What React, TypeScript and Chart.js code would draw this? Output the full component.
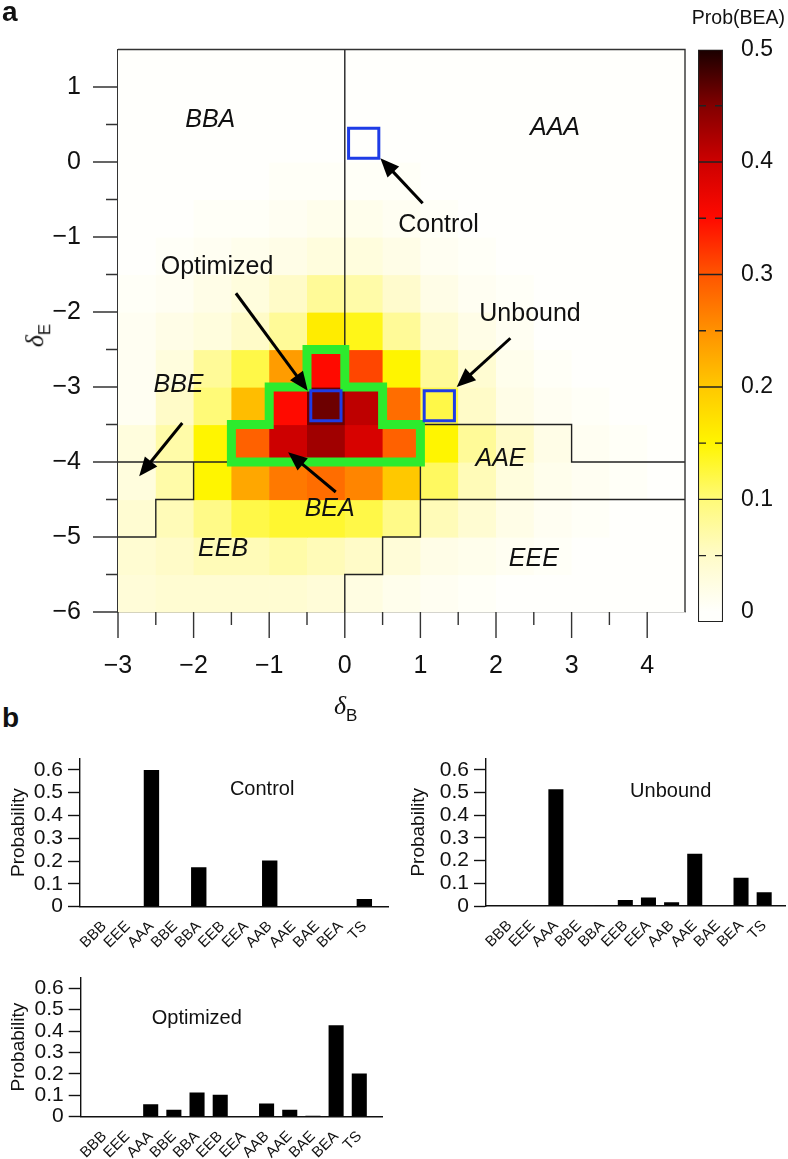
import React, { useEffect, useRef } from 'react';
import { Chart, registerables } from 'chart.js';
Chart.register(...registerables);

const SANS = "'Liberation Sans', Arial, Helvetica, sans-serif";

// ---------- Panel a : heat map of Prob(BEA) ----------
const cellLeftEdges = [-3, -2.5, -2, -1.5, -1, -0.5, 0, 0.5, 1, 1.5, 2, 2.5, 3, 3.5, 4];
const cellBottomEdges = [-6, -5.5, -5, -4.5, -4, -3.5, -3, -2.5, -2, -1.5, -1, -0.5, 0, 0.5, 1];
const CELL = 0.5;
// rows listed from deltaE = -6 (bottom) upward, columns from deltaB = -3 rightward
const probBEA = [
  [0.035, 0.04, 0.04, 0.04, 0.04, 0.035, 0.025, 0.015, 0.01, 0.005, 0, 0, 0, 0, 0],
  [0.04, 0.05, 0.06, 0.06, 0.07, 0.06, 0.05, 0.035, 0.02, 0.015, 0.01, 0.005, 0, 0, 0],
  [0.04, 0.06, 0.09, 0.12, 0.13, 0.13, 0.12, 0.09, 0.06, 0.04, 0.02, 0.01, 0.005, 0, 0],
  [0.03, 0.07, 0.15, 0.23, 0.27, 0.28, 0.26, 0.2, 0.11, 0.06, 0.03, 0.015, 0.01, 0.005, 0],
  [0.03, 0.07, 0.15, 0.29, 0.4, 0.43, 0.39, 0.29, 0.15, 0.08, 0.05, 0.02, 0.01, 0.005, 0],
  [0.01, 0.05, 0.1, 0.21, 0.35, 0.46, 0.41, 0.28, 0.12, 0.05, 0.02, 0.01, 0.005, 0, 0],
  [0.01, 0.03, 0.08, 0.12, 0.24, 0.35, 0.31, 0.15, 0.08, 0.04, 0.015, 0.005, 0, 0, 0],
  [0.01, 0.02, 0.03, 0.05, 0.08, 0.16, 0.14, 0.08, 0.04, 0.02, 0.01, 0, 0, 0, 0],
  [0.005, 0.01, 0.02, 0.03, 0.05, 0.08, 0.07, 0.045, 0.02, 0.01, 0.005, 0, 0, 0, 0],
  [0, 0.005, 0.01, 0.015, 0.02, 0.03, 0.03, 0.02, 0.01, 0.005, 0, 0, 0, 0, 0],
  [0, 0, 0.005, 0.005, 0.01, 0.015, 0.015, 0.01, 0.005, 0, 0, 0, 0, 0, 0],
  [0, 0, 0, 0, 0.005, 0.005, 0.005, 0.005, 0, 0, 0, 0, 0, 0, 0],
  [0, 0, 0, 0, 0, 0, 0, 0, 0, 0, 0, 0, 0, 0, 0],
  [0, 0, 0, 0, 0, 0, 0, 0, 0, 0, 0, 0, 0, 0, 0],
  [0, 0, 0, 0, 0, 0, 0, 0, 0, 0, 0, 0, 0, 0, 0],
];
const xTickValues = [-3, -2.5, -2, -1.5, -1, -0.5, 0, 0.5, 1, 1.5, 2, 2.5, 3, 3.5, 4];
const yTickValues = [-6, -5.5, -5, -4.5, -4, -3.5, -3, -2.5, -2, -1.5, -1, -0.5, 0, 0.5, 1];
const colorbarTicks = [0, 0.1, 0.2, 0.3, 0.4, 0.5];
const colorbarMinor = [0.05, 0.15, 0.25, 0.35, 0.45];
const colorStops: [number, number[]][] = [
  [0, [255, 255, 252]],
  [0.05, [255, 251, 200]],
  [0.1, [255, 250, 120]],
  [0.15, [255, 245, 0]],
  [0.2, [255, 200, 0]],
  [0.25, [255, 145, 0]],
  [0.3, [255, 85, 0]],
  [0.35, [255, 10, 0]],
  [0.4, [205, 0, 0]],
  [0.45, [130, 0, 0]],
  [0.5, [25, 0, 0]],
];
const regionLabels = [
  { text: 'BBA', x: -1.78, y: 0.56 },
  { text: 'AAA', x: 2.78, y: 0.45 },
  { text: 'BBE', x: -2.2, y: -2.97 },
  { text: 'AAE', x: 2.06, y: -3.96 },
  { text: 'BEA', x: -0.2, y: -4.63 },
  { text: 'EEB', x: -1.61, y: -5.16 },
  { text: 'EEE', x: 2.5, y: -5.3 },
];
const regionBoundaries = [
  [[0, 1.5], [0, -2.5]],
  [[-3, -4], [-1.5, -4]],
  [[-2, -4], [-2, -4.5], [-2.5, -4.5], [-2.5, -5], [-3, -5]],
  [[1, -4], [1, -5], [0.5, -5], [0.5, -5.5], [0, -5.5], [0, -6]],
  [[1, -3.5], [3, -3.5], [3, -4], [4.5, -4]],
  [[1, -4.5], [4.5, -4.5]],
];
const optimizedOutline = [
  [-1.5, -4], [1, -4], [1, -3.5], [0.5, -3.5], [0.5, -3], [0, -3], [0, -2.5],
  [-0.5, -2.5], [-0.5, -3], [-1, -3], [-1, -3.5], [-1.5, -3.5],
];
const markedCells = [
  { name: 'Control', x: 0.25, y: 0.25 },
  { name: 'Optimized', x: -0.25, y: -3.25 },
  { name: 'Unbound', x: 1.25, y: -3.25 },
];
const annotations = [
  { text: 'Control', x: 1.24, y: -0.84 },
  { text: 'Optimized', x: -1.69, y: -1.4 },
  { text: 'Unbound', x: 2.45, y: -2.03 },
];
const arrows = [
  { from: [1.03, -0.55], to: [0.47, 0.05] },
  { from: [-1.44, -1.75], to: [-0.49, -3.05] },
  { from: [2.19, -2.35], to: [1.48, -3.0] },
  { from: [-2.15, -3.48], to: [-2.72, -4.19] },
  { from: [-0.12, -4.4], to: [-0.75, -3.87] },
];

// ---------- Panel b : state probabilities ----------
const states = ['BBB', 'EEE', 'AAA', 'BBE', 'BBA', 'EEB', 'EEA', 'AAB', 'AAE', 'BAE', 'BEA', 'TS'];
const controlProb = [0, 0, 0.6, 0, 0.173, 0, 0, 0.203, 0, 0, 0.002, 0.034];
const unboundProb = [0, 0.002, 0.515, 0, 0.001, 0.026, 0.037, 0.016, 0.23, 0.002, 0.124, 0.061];
const optimizedProb = [0, 0, 0.058, 0.032, 0.113, 0.102, 0.002, 0.062, 0.033, 0.004, 0.427, 0.202];
const probTicks = [0, 0.1, 0.2, 0.3, 0.4, 0.5, 0.6];

const minus = (v: number) => String(v).replace('-', '\u2212');

function colorFor(v: number) {
  if (v <= colorStops[0][0]) return `rgb(${colorStops[0][1].join(',')})`;
  for (let k = 1; k < colorStops.length; k++) {
    const [v1, c1] = colorStops[k];
    const [v0, c0] = colorStops[k - 1];
    if (v <= v1) {
      const t = (v - v0) / (v1 - v0);
      const c = c0.map((a, i) => Math.round(a + (c1[i] - a) * t));
      return `rgb(${c.join(',')})`;
    }
  }
  return `rgb(${colorStops[colorStops.length - 1][1].join(',')})`;
}

function drawArrow(ctx: CanvasRenderingContext2D, x0: number, y0: number, x1: number, y1: number) {
  const ang = Math.atan2(y1 - y0, x1 - x0);
  const headLen = 19, headW = 8;
  const bx = x1 - headLen * Math.cos(ang), by = y1 - headLen * Math.sin(ang);
  ctx.save();
  ctx.strokeStyle = '#000';
  ctx.fillStyle = '#000';
  ctx.lineWidth = 3;
  ctx.beginPath();
  ctx.moveTo(x0, y0);
  ctx.lineTo(bx + 2 * Math.cos(ang), by + 2 * Math.sin(ang));
  ctx.stroke();
  ctx.beginPath();
  ctx.moveTo(x1, y1);
  ctx.lineTo(bx + headW * Math.sin(ang), by - headW * Math.cos(ang));
  ctx.lineTo(bx - headW * Math.sin(ang), by + headW * Math.cos(ang));
  ctx.closePath();
  ctx.fill();
  ctx.restore();
}

const heatmapPlugin = {
  id: 'heatmapCells',
  beforeDatasetsDraw(chart: any) {
    const { ctx, scales: { x, y } } = chart;
    ctx.save();
    probBEA.forEach((row, j) => {
      row.forEach((v, i) => {
        const x0 = x.getPixelForValue(cellLeftEdges[i]);
        const x1 = x.getPixelForValue(cellLeftEdges[i] + CELL);
        const y0 = y.getPixelForValue(cellBottomEdges[j] + CELL);
        const y1 = y.getPixelForValue(cellBottomEdges[j]);
        ctx.fillStyle = colorFor(v);
        ctx.fillRect(x0, y0, x1 - x0 + 0.6, y1 - y0 + 0.6);
      });
    });
    ctx.restore();
  },
  afterDatasetsDraw(chart: any) {
    const { ctx, chartArea, scales: { x, y } } = chart;
    const px = (p: number[]) => [x.getPixelForValue(p[0]), y.getPixelForValue(p[1])];
    ctx.save();
    ctx.strokeStyle = '#222';
    ctx.lineWidth = 1.4;
    regionBoundaries.forEach((line) => {
      ctx.beginPath();
      line.forEach((p, k) => {
        const [a, b] = px(p);
        if (k === 0) ctx.moveTo(a, b); else ctx.lineTo(a, b);
      });
      ctx.stroke();
    });
    ctx.strokeStyle = 'rgb(45,235,45)';
    ctx.lineWidth = 9;
    ctx.lineJoin = 'miter';
    ctx.beginPath();
    optimizedOutline.forEach((p, k) => {
      const [a, b] = px(p);
      if (k === 0) ctx.moveTo(a, b); else ctx.lineTo(a, b);
    });
    ctx.closePath();
    ctx.stroke();
    ctx.strokeStyle = 'rgb(30,60,230)';
    ctx.lineWidth = 3;
    markedCells.forEach((m) => {
      const [a0, b0] = px([m.x - 0.2, m.y + 0.2]);
      const [a1, b1] = px([m.x + 0.2, m.y - 0.2]);
      ctx.strokeRect(a0, b0, a1 - a0, b1 - b0);
    });
    ctx.strokeStyle = '#333';
    ctx.lineWidth = 1.4;
    ctx.beginPath();
    ctx.moveTo(chartArea.left, chartArea.top);
    ctx.lineTo(chartArea.right, chartArea.top);
    ctx.lineTo(chartArea.right, chartArea.bottom);
    ctx.stroke();
    ctx.fillStyle = '#111';
    ctx.textAlign = 'center';
    ctx.textBaseline = 'middle';
    ctx.font = `italic 25px ${SANS}`;
    regionLabels.forEach((l) => {
      const [a, b] = px([l.x, l.y]);
      ctx.fillText(l.text, a, b);
    });
    ctx.font = `25px ${SANS}`;
    annotations.forEach((l) => {
      const [a, b] = px([l.x, l.y]);
      ctx.fillText(l.text, a, b);
    });
    arrows.forEach((ar) => {
      const [a0, b0] = px(ar.from);
      const [a1, b1] = px(ar.to);
      drawArrow(ctx, a0, b0, a1, b1);
    });
    ctx.strokeStyle = '#333';
    ctx.lineWidth = 1.4;
    ctx.beginPath();
    x.ticks.forEach((t: any) => {
      const a = x.getPixelForValue(t.value);
      const len = Number.isInteger(t.value) ? 26 : 13;
      ctx.moveTo(a, chartArea.bottom);
      ctx.lineTo(a, chartArea.bottom + len);
    });
    y.ticks.forEach((t: any) => {
      const b = y.getPixelForValue(t.value);
      const len = Number.isInteger(t.value) ? 25 : 12;
      ctx.moveTo(chartArea.left, b);
      ctx.lineTo(chartArea.left - len, b);
    });
    ctx.stroke();
    ctx.restore();
  },
};

const colorbarPlugin = {
  id: 'colorbarLines',
  afterDatasetsDraw(chart: any) {
    const { ctx, chartArea, scales: { y } } = chart;
    ctx.save();
    ctx.strokeStyle = '#222';
    ctx.lineWidth = 1.4;
    ctx.beginPath();
    colorbarTicks.slice(1, 5).forEach((v) => {
      const b = y.getPixelForValue(v);
      ctx.moveTo(chartArea.left, b);
      ctx.lineTo(chartArea.right, b);
    });
    colorbarMinor.forEach((v) => {
      const b = y.getPixelForValue(v);
      ctx.moveTo(chartArea.left, b);
      ctx.lineTo(chartArea.left + 8, b);
      ctx.moveTo(chartArea.right - 8, b);
      ctx.lineTo(chartArea.right, b);
    });
    ctx.stroke();
    ctx.restore();
  },
};

const barTitlePlugin = {
  id: 'panelTitle',
  afterDatasetsDraw(chart: any, _args: any, opts: any) {
    const { ctx, scales: { x, y } } = chart;
    ctx.save();
    ctx.fillStyle = '#111';
    ctx.font = `20px ${SANS}`;
    ctx.textAlign = 'center';
    ctx.textBaseline = 'middle';
    ctx.fillText(opts.text, x.getPixelForValue(opts.x), y.getPixelForValue(opts.y));
    ctx.restore();
  },
};

function heatmapConfig(): any {
  return {
    type: 'scatter',
    data: { datasets: [{ data: [], pointRadius: 0 }] },
    options: {
      responsive: false,
      animation: false,
      events: [],
      layout: { padding: { top: 49.5, right: 5, left: 0, bottom: 0 } },
      plugins: { legend: { display: false }, tooltip: { enabled: false } },
      scales: {
        x: {
          type: 'linear', min: -3, max: 4.5,
          afterBuildTicks: (s: any) => { s.ticks = xTickValues.map((v) => ({ value: v })); },
          afterFit: (s: any) => { s.height = 88; },
          ticks: {
            autoSkip: false, maxRotation: 0, padding: 31, color: '#111',
            font: { family: SANS, size: 25 },
            callback: (v: number) => (Number.isInteger(v) ? minus(v) : ''),
          },
          grid: { display: false },
          border: { display: true, color: '#333', width: 1.4 },
        },
        y: {
          type: 'linear', min: -6, max: 1.5,
          afterBuildTicks: (s: any) => { s.ticks = yTickValues.map((v) => ({ value: v })); },
          afterFit: (s: any) => { s.width = 118; },
          ticks: {
            autoSkip: false, padding: 29, color: '#111',
            font: { family: SANS, size: 25 },
            callback: (v: number) => (Number.isInteger(v) ? minus(v) : ''),
          },
          grid: { display: false },
          border: { display: true, color: '#333', width: 1.4 },
        },
      },
    },
    plugins: [heatmapPlugin],
  };
}

function colorbarConfig(): any {
  return {
    type: 'bar',
    data: {
      labels: ['Prob(BEA)'],
      datasets: [{
        data: [[-0.009, 0.5]],
        barPercentage: 1, categoryPercentage: 1,
        borderColor: '#222', borderWidth: 1.4, borderSkipped: false,
        backgroundColor: (c: any) => {
          const { chart } = c;
          if (!chart.chartArea) return '#fff';
          const ys = chart.scales.y;
          const g = chart.ctx.createLinearGradient(0, ys.getPixelForValue(0), 0, ys.getPixelForValue(0.5));
          colorStops.forEach(([v, col]) => g.addColorStop(v / 0.5, `rgb(${col.join(',')})`));
          return g;
        },
      }],
    },
    options: {
      responsive: false,
      animation: false,
      events: [],
      layout: { padding: { top: 49.5, left: 8, right: 0, bottom: 78 } },
      plugins: { legend: { display: false }, tooltip: { enabled: false } },
      scales: {
        x: { display: false },
        y: {
          position: 'right', min: -0.009, max: 0.5,
          afterBuildTicks: (s: any) => { s.ticks = colorbarTicks.map((v) => ({ value: v })); },
          afterFit: (s: any) => { s.width = 65; },
          ticks: {
            autoSkip: false, padding: 10, color: '#111', font: { family: SANS, size: 23 },
            callback: (v: number) => (v === 0 ? '0' : v.toFixed(1)),
          },
          grid: { display: false },
          border: { display: false },
        },
      },
    },
    plugins: [colorbarPlugin],
  };
}

function barConfig(values: number[], title: any, pad: any, yWidth: number, xHeight: number, xMax: number): any {
  return {
    type: 'bar',
    data: {
      datasets: [{
        data: values.map((v, i) => ({ x: i, y: v })),
        backgroundColor: '#000', borderWidth: 0,
        barPercentage: 0.65, categoryPercentage: 1,
      }],
    },
    options: {
      responsive: false,
      animation: false,
      events: [],
      layout: { padding: pad },
      plugins: { legend: { display: false }, tooltip: { enabled: false }, panelTitle: title },
      scales: {
        x: {
          type: 'linear', min: -1.02, max: xMax, offset: false,
          afterBuildTicks: (s: any) => { s.ticks = states.map((_, i) => ({ value: i })); },
          afterFit: (s: any) => { s.height = xHeight; },
          ticks: {
            autoSkip: false, minRotation: 45, maxRotation: 45, padding: 3, color: '#111',
            font: { family: SANS, size: 15 },
            callback: (v: number) => states[v] ?? '',
          },
          grid: { display: false },
          border: { display: true, color: '#111', width: 1.4 },
        },
        y: {
          min: 0, max: 0.65,
          afterBuildTicks: (s: any) => { s.ticks = probTicks.map((v) => ({ value: v })); },
          afterFit: (s: any) => { s.width = yWidth; },
          ticks: {
            autoSkip: false, padding: 5, color: '#111', font: { family: SANS, size: 21 },
            callback: (v: number) => (v === 0 ? '0' : v.toFixed(1)),
          },
          grid: { drawOnChartArea: false, drawTicks: true, tickLength: 12, tickColor: '#111', tickWidth: 1.4 },
          border: { display: true, color: '#111', width: 1.4 },
          title: {
            display: true, text: 'Probability', color: '#111',
            font: { family: SANS, size: 19 }, padding: { top: 7, bottom: 0 },
          },
        },
      },
    },
    plugins: [barTitlePlugin],
  };
}

function ChartCanvas({ config, left, top, width, height }: any) {
  const ref = useRef<HTMLCanvasElement>(null);
  useEffect(() => {
    if (!ref.current) return;
    const chart = new Chart(ref.current, config());
    return () => chart.destroy();
  }, []);
  return (
    <canvas
      ref={ref}
      width={width}
      height={height}
      style={{ position: 'absolute', left, top, width, height }}
    />
  );
}

const textStyle: any = { position: 'absolute', fontFamily: SANS, color: '#111', whiteSpace: 'nowrap', lineHeight: 1 };

export default function App() {
  return (
    <div style={{ position: 'absolute', left: 0, top: 0, width: 788, height: 1159, background: '#fff', overflow: 'hidden' }}>
      <ChartCanvas config={heatmapConfig} left={0} top={0} width={690} height={700} />
      <ChartCanvas config={colorbarConfig} left={690} top={0} width={98} height={700} />
      <ChartCanvas
        config={() => barConfig(controlProb, { text: 'Control', x: 6.68, y: 0.512 }, { top: 18.5, left: 0, right: 7, bottom: 0 }, 80, 43.3, 12.0)}
        left={0} top={740} width={395} height={210}
      />
      <ChartCanvas
        config={() => barConfig(unboundProb, { text: 'Unbound', x: 6.96, y: 0.504 }, { top: 18.5, left: 0, right: 3, bottom: 0 }, 86, 44, 11.9)}
        left={400} top={740} width={388} height={210}
      />
      <ChartCanvas
        config={() => barConfig(optimizedProb, { text: 'Optimized', x: 3.99, y: 0.46 }, { top: 7.5, left: 0, right: 13, bottom: 0 }, 80.7, 42.3, 11.98)}
        left={0} top={960} width={395} height={199}
      />
      <div style={{ ...textStyle, left: 2, top: -2, fontSize: 28, fontWeight: 'bold' }}>a</div>
      <div style={{ ...textStyle, left: 2, top: 704, fontSize: 28, fontWeight: 'bold' }}>b</div>
      <div style={{ ...textStyle, right: 3, top: 8, fontSize: 19.5 }}>Prob(BEA)</div>
      <div style={{ ...textStyle, left: 23, top: 322, transform: 'rotate(-90deg)', transformOrigin: 'center', fontSize: 26 }}>
        <span style={{ fontFamily: "'Liberation Serif', serif", fontStyle: 'italic' }}>δ</span>
        <span style={{ fontSize: 17, position: 'relative', top: 7 }}>E</span>
      </div>
      <div style={{ ...textStyle, left: 334, top: 692, fontSize: 26 }}>
        <span style={{ fontFamily: "'Liberation Serif', serif", fontStyle: 'italic' }}>δ</span>
        <span style={{ fontSize: 17, position: 'relative', top: 7 }}>B</span>
      </div>
    </div>
  );
}
